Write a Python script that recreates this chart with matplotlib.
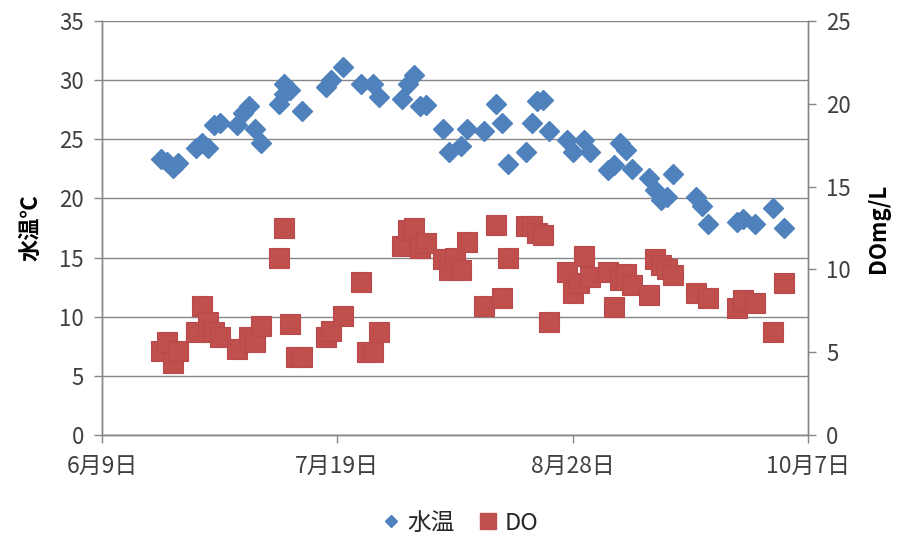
import matplotlib.pyplot as plt
import matplotlib.dates as mdates
from matplotlib.lines import Line2D
import numpy as np
from datetime import date, timedelta

plt.rcParams['font.family'] = ['Noto Sans CJK JP', 'DejaVu Sans']

start = date(2013, 6, 9)

# water temperature (left axis), days counted from 6/9
temp_days = [10, 11, 12, 13, 16, 17, 18, 19, 20, 23, 24, 25, 26, 27, 30, 31, 31.5,
             32, 34, 38, 39, 41, 44, 46, 47, 51, 52, 53, 54, 55, 58, 59, 61, 62,
             65, 67, 68, 69, 72, 73, 74, 75, 76, 79, 80, 82, 83, 86, 87, 88, 89,
             90, 93, 94, 95, 96, 97, 101, 102, 103, 108, 109, 111, 114, 116]
temp = [23.3, 23.1, 22.6, 23.0, 24.3, 24.7, 24.3, 26.2, 26.4, 26.2, 27.2, 27.8,
        25.9, 24.7, 28.0, 29.7, 28.8, 29.2, 27.4, 29.4, 30.0, 31.1, 29.7, 29.7,
        28.6, 28.4, 29.7, 30.4, 27.8, 27.9, 25.9, 23.9, 24.4, 25.9, 25.7, 28.0,
        26.4, 22.9, 23.9, 26.4, 28.2, 28.3, 25.7, 24.9, 23.9, 24.9, 23.9, 22.4,
        22.8, 24.7, 24.1, 22.5, 21.7, 20.7, 19.9, 20.1, 22.1, 20.1, 19.4, 17.8,
        18.0, 18.3, 17.8, 19.2, 17.5]

# dissolved oxygen (right axis, mg/L)
do_days = [10, 11, 12, 13, 16, 17, 18, 19, 20, 23, 25, 26, 27, 30, 31, 32, 33, 34,
           38, 39, 41, 44, 45, 46, 47, 51, 52, 53, 54, 55, 58, 59, 60, 61, 62,
           65, 67, 68, 69, 72, 73, 74, 75, 76, 79, 80, 81, 82, 83, 86, 87, 88,
           89, 90, 93, 94, 95, 96, 97, 101, 103, 108, 109, 111, 114, 116]
do = [5.1, 5.6, 4.35, 5.1, 6.2, 7.8, 6.8, 6.2, 5.9, 5.2, 5.9, 5.6, 6.6, 10.7,
      12.5, 6.7, 4.7, 4.7, 5.9, 6.3, 7.2, 9.25, 5.0, 5.0, 6.2, 11.4, 12.4, 12.5,
      11.3, 11.6, 10.6, 9.95, 10.7, 9.95, 11.65, 7.8, 12.7, 8.3, 10.7, 12.6, 12.6,
      12.2, 12.1, 6.8, 9.85, 8.6, 9.2, 10.8, 9.55, 9.85, 7.7, 9.35, 9.7, 9.05,
      8.45, 10.6, 10.25, 10.0, 9.65, 8.6, 8.3, 7.65, 8.15, 7.95, 6.2, 9.2]

temp_dates = [start + timedelta(days=d) for d in temp_days]
do_dates = [start + timedelta(days=d) for d in do_days]

blue = '#4F81BD'
red = '#C0504D'
grid = '#868686'
txt = '#404040'

fig = plt.figure(figsize=(8.98, 5.42), dpi=100)
ax = fig.add_axes([0.1136, 0.1974, 0.7862, 0.7639])
ax2 = ax.twinx()

ax.plot(temp_dates, temp, linestyle='none', marker='D', markersize=10.5,
        color=blue, markeredgecolor=blue, zorder=3)
ax2.plot(do_dates, do, linestyle='none', marker='s', markersize=14,
         color=red, markeredgecolor='#B9494A', markeredgewidth=0.8, zorder=3)

ax.set_xlim(start, start + timedelta(days=120))
ax.set_ylim(0, 35)
ax2.set_ylim(0, 25)
ax.set_yticks(np.arange(0, 36, 5))
ax2.set_yticks(np.arange(0, 26, 5))
ax.set_xticks([start + timedelta(days=d) for d in (0, 40, 80, 120)])
ax.xaxis.set_major_formatter(
    plt.FuncFormatter(lambda v, p: '{}月{}日'.format(mdates.num2date(v).month,
                                                   mdates.num2date(v).day)))

ax.grid(axis='y', color=grid, linewidth=1)
ax.set_axisbelow(True)
for a in (ax, ax2):
    for s in a.spines.values():
        s.set_color(grid)
        s.set_linewidth(1)
    a.spines['top'].set_visible(False)
    a.tick_params(colors=grid, labelcolor=txt, labelsize=16, length=6, width=1)
    a.tick_params(axis='y', pad=7)
ax.tick_params(axis='x', pad=8, labelsize=16.5)

ax.set_ylabel('水温℃', fontsize=16, fontweight='bold', color='black', labelpad=12)
ax2.set_ylabel('DOmg/L', fontsize=16, fontweight='bold', color='black', labelpad=12)

handles = [
    Line2D([], [], linestyle='none', marker='D', markersize=6.6, color=blue),
    Line2D([], [], linestyle='none', marker='s', markersize=11, color=red),
]
fig.legend(handles, ['水温', 'DO'], loc='center', bbox_to_anchor=(0.512, 0.035),
           ncol=2, frameon=False, fontsize=17, handlelength=0.8,
           handletextpad=0.3, columnspacing=1.0, labelcolor='#262626')

fig.savefig('out.png', dpi=100)
